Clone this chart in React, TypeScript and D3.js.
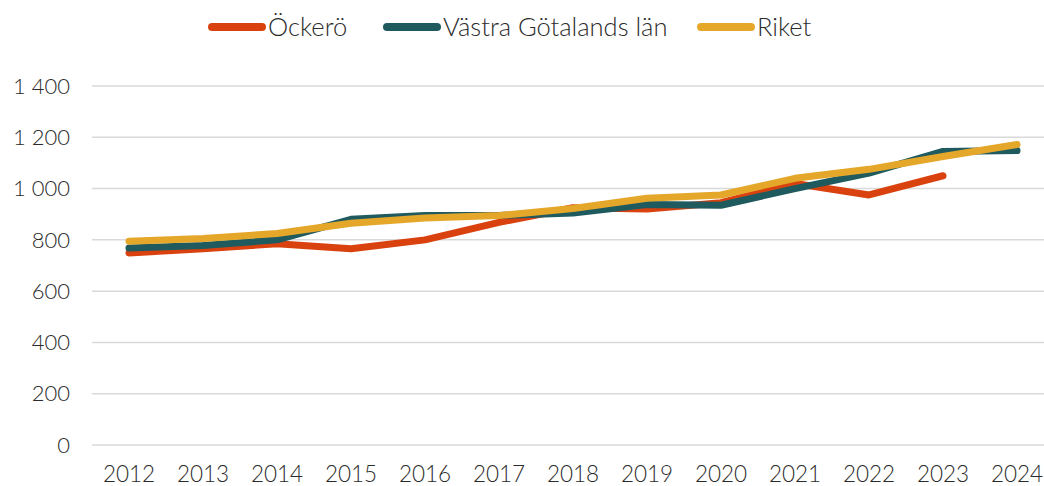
import React from "react";
import * as d3 from "d3";

const years = ["2012","2013","2014","2015","2016","2017","2018","2019","2020","2021","2022","2023","2024"];
const ockero = [749, 765, 785, 765, 800, 868, 925, 920, 945, 1020, 975, 1050, null];
const vastra = [768, 778, 800, 880, 895, 895, 905, 938, 935, 1000, 1060, 1145, 1148];
const riket = [795, 805, 825, 865, 885, 895, 922, 962, 975, 1040, 1075, 1125, 1172];
const yTicks = [0, 200, 400, 600, 800, 1000, 1200, 1400];

const seriesNames = ["Öckerö", "Västra Götalands län", "Riket"];
const colors = ["#D9420F", "#1F5A5F", "#E5A72A"];

export default function App() {
  const W = 1044, H = 486;
  const left = 92, right = 1054, top = 86, bottom = 445;
  const x = d3.scaleBand<string>().domain(years).range([left, right]);
  const y = d3.scaleLinear().domain([0, 1400]).range([bottom, top]);
  const line = d3.line<number | null>()
    .defined((d) => d != null)
    .x((_, i) => (x(years[i]) as number) + x.bandwidth() / 2)
    .y((d) => y(d as number));
  const fmt = (v: number) => d3.format(",")(v).replace(",", " ");
  const data = [ockero, vastra, riket];
  const legendX = [208, 383, 697];
  const font = "Lato, 'Open Sans', sans-serif";
  const txt = "#2b2b2b";
  return (
    <svg width={W} height={H} style={{ position: "absolute", left: 0, top: 0 }} fontFamily={font}>
      {yTicks.map((t) => (
        <g key={t}>
          <line x1={left} x2={W} y1={y(t)} y2={y(t)} stroke="#D9D9D9" strokeWidth={1.5} />
          <text x={70} y={y(t)} dy="0.35em" textAnchor="end" fontSize={22} fill={txt} fontWeight={300}>{fmt(t)}</text>
        </g>
      ))}
      {years.map((yr) => (
        <text key={yr} x={(x(yr) as number) + x.bandwidth() / 2} y={474} dy="0.35em" textAnchor="middle" fontSize={22.5} fill={txt} fontWeight={300}>{yr}</text>
      ))}
      {data.map((d, i) => (
        <path key={i} d={line(d) || ""} fill="none" stroke={colors[i]} strokeWidth={7} strokeLinecap="round" strokeLinejoin="round" />
      ))}
      {seriesNames.map((n, i) => (
        <g key={n}>
          <line x1={legendX[i] + 4} x2={legendX[i] + 54} y1={27} y2={27} stroke={colors[i]} strokeWidth={8} strokeLinecap="round" />
          <text x={legendX[i] + 60} y={27} dy="0.35em" fontSize={25.5} fill={txt} fontWeight={300}>{n}</text>
        </g>
      ))}
    </svg>
  );
}
